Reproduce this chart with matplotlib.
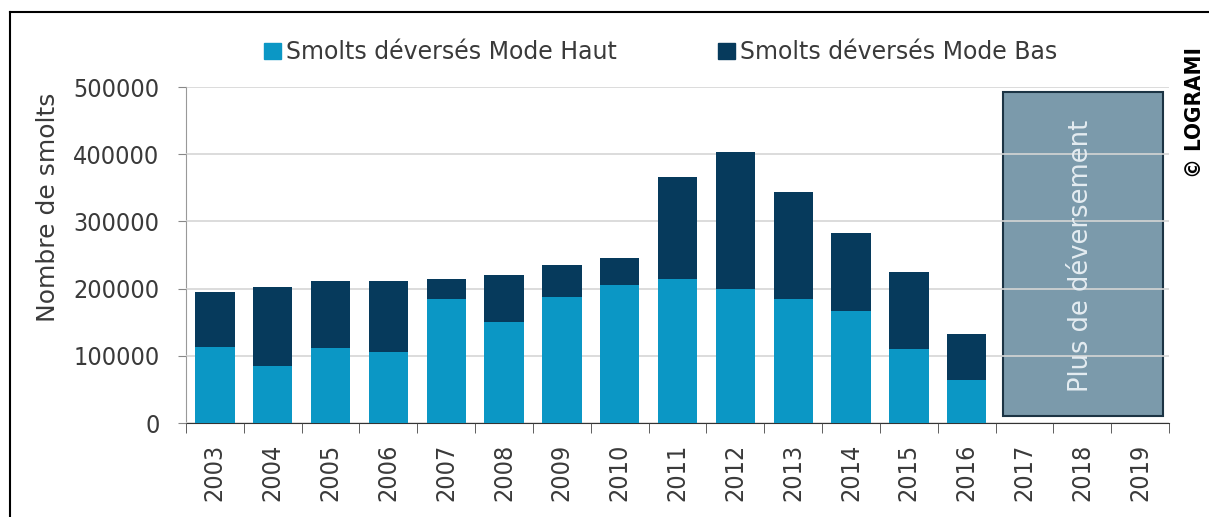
import matplotlib.pyplot as plt
import numpy as np
from matplotlib.patches import Rectangle, Patch
from matplotlib.lines import Line2D

plt.rcParams['font.family'] = ['DejaVu Sans']
plt.rcParams['font.stretch'] = 'condensed'

years = ['2003', '2004', '2005', '2006', '2007', '2008', '2009', '2010', '2011',
         '2012', '2013', '2014', '2015', '2016', '2017', '2018', '2019']
# values (total height and light part)
haut = [113000, 85000, 112000, 106000, 184000, 150000, 187000, 206000, 214000,
        199000, 184000, 166000, 110000, 64000, 0, 0, 0]
total = [195000, 203000, 211000, 211000, 214000, 220000, 235000, 246000, 366000,
         403000, 344000, 283000, 224000, 133000, 0, 0, 0]
bas = [t - h for t, h in zip(total, haut)]

c_haut = '#0b97c5'
c_bas = '#063a5c'
txt = '#3a3a3a'

fig = plt.figure(figsize=(12.09, 5.17), dpi=100)
ax = fig.add_axes([0.1538, 0.1818, 0.967 - 0.1538, 0.8317 - 0.1818])

x = np.arange(len(years))
ax.bar(x, haut, width=0.68, color=c_haut, zorder=3)
ax.bar(x, bas, width=0.68, bottom=haut, color=c_bas, zorder=3)

# "no more releases" box over 2017-2019
i0 = years.index('2017')
i1 = years.index('2019')
box = Rectangle((i0 - 0.37, 10000), (i1 + 0.40) - (i0 - 0.37), 482000,
                facecolor='#7b9aab', edgecolor='#1c3444', linewidth=1.5, zorder=1)
ax.add_patch(box)
ax.text((i0 + i1) / 2 - 0.03, 248500, 'Plus de déversement', rotation=90,
        ha='center', va='center', color='#e4ecf1', fontsize=18.5,
        fontstretch='normal', zorder=4)

ax.set_xlim(-0.5, len(years) - 0.5)
ax.set_ylim(0, 500000)
ax.set_yticks(np.arange(0, 500001, 100000))
ax.set_yticklabels([str(v) for v in range(0, 500001, 100000)], fontsize=18, color=txt)
ax.set_xticks(x)
ax.set_xticklabels(years, rotation=90, fontsize=18, color=txt)
ax.set_xticks(np.arange(-0.5, len(years)), minor=True)
ax.tick_params(axis='x', which='major', length=0, pad=15)
ax.tick_params(axis='x', which='minor', length=7, color='#444444')
ax.tick_params(axis='y', length=6, color='#888888', pad=13)
ax.grid(axis='y', color='#d5d5d5', linewidth=1.2, zorder=2)
ax.set_axisbelow(False)
for s in ['top', 'right']:
    ax.spines[s].set_visible(False)
ax.spines['left'].set_color('#999999')
ax.spines['bottom'].set_color('#333333')
ax.set_ylabel('Nombre de smolts', fontsize=18, color=txt, fontstretch='normal')
ax.yaxis.set_label_coords(-0.128, 0.643)

handles = [Patch(color=c_haut), Patch(color=c_bas)]
fig.legend(handles, ['Smolts déversés Mode Haut', 'Smolts déversés Mode Bas'],
           loc='center', bbox_to_anchor=(0.5463, 0.899), ncol=2, frameon=False,
           prop={'size': 17, 'stretch': 'normal'}, handlelength=0.72,
           handleheight=0.72, handletextpad=0.2, columnspacing=4.3,
           labelcolor=txt)

fig.text(0.9885, 0.783, '© LOGRAMI', rotation=90, ha='center', va='center',
         fontsize=16, fontweight='bold')

# frame around the picture
fig.add_artist(Line2D([10 / 1209, 10 / 1209], [0, 1 - 12 / 517], color='black', lw=1.5))
fig.add_artist(Line2D([10 / 1209, 1], [1 - 12 / 517, 1 - 12 / 517], color='black', lw=1.5))

fig.savefig('out.png', dpi=100)
